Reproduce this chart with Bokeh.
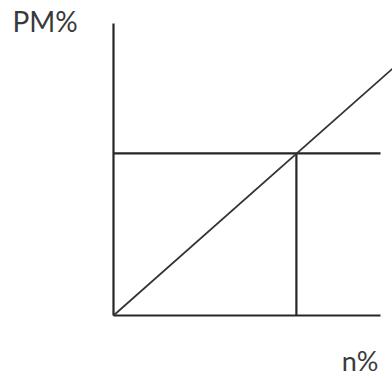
from bokeh.plotting import figure
from bokeh.models import Range1d
from bokeh.core.properties import value
from bokeh.embed import file_html
from bokeh.resources import INLINE

# ---- data (in % units) ----
axis_x_end = 100.0          # length of the n% axis
axis_y_end = 109.4          # length of the PM% axis
level_y = 60.7              # horizontal level line (PM%)
level_x = 68.5              # vertical drop (n%)
diag_x = [0.0, 105.0]       # proportional line
diag_y = [0.0, 92.9]
label_y_text = "PM%"
label_x_text = "n%"

# ---- layout ----
W, H = 392, 378
scale = 2.67               # px per unit
ox, oy = 113, 63           # origin offset inside frame (px from left, px from bottom)

p = figure(width=W, height=H, output_backend="svg", toolbar_location=None,
           x_range=Range1d(-ox / scale, (W - ox) / scale),
           y_range=Range1d(-oy / scale, (H - oy) / scale),
           min_border=0, outline_line_color=None)
p.axis.visible = False
p.grid.visible = False
p.background_fill_color = "white"
p.border_fill_color = "white"

line_col = "#262626"
# axes
p.line([0, axis_x_end], [0, 0], line_color=line_col, line_width=2.2)
p.line([0, 0], [0, axis_y_end], line_color=line_col, line_width=2.2)
# level lines
p.line([0, axis_x_end], [level_y, level_y], line_color=line_col, line_width=2.2)
p.line([level_x, level_x], [0, level_y], line_color=line_col, line_width=2.2)
# diagonal
p.line(diag_x, diag_y, line_color="#333333", line_width=1.7)

# labels
p.text(x=[-101 / scale], y=[(315 - 3) / scale], text=[label_y_text],
       text_font=value("Lato"), text_font_size="28px", text_color="#3a3a3a",
       text_baseline="top", text_align="left")
p.text(x=[(378 - 113) / scale], y=[(315 - 343) / scale], text=[label_x_text],
       text_font=value("Lato"), text_font_size="27px", text_color="#3a3a3a",
       text_baseline="top", text_align="right")

open("out.html", "w").write(file_html(p, INLINE))
